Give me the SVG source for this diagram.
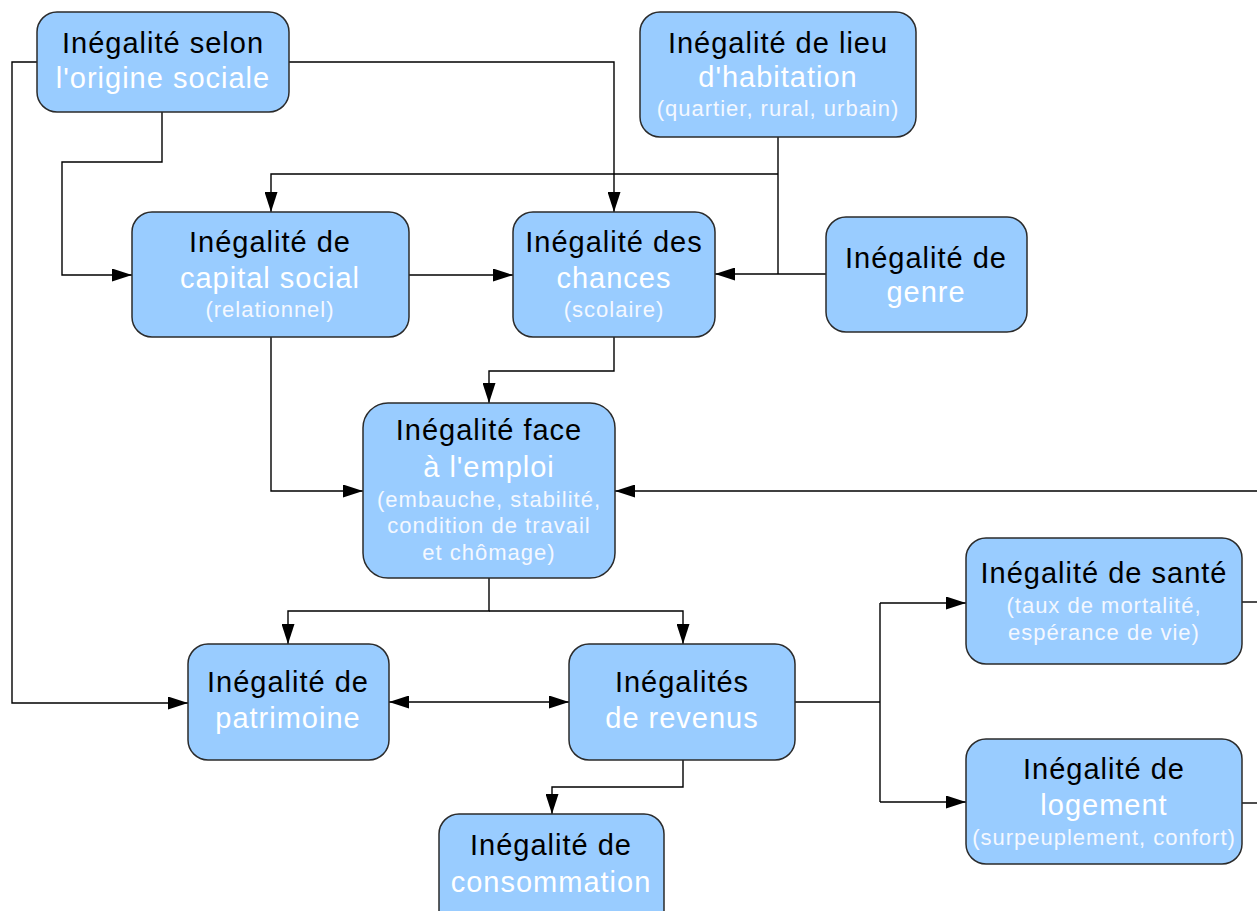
<svg xmlns="http://www.w3.org/2000/svg" width="1257" height="911" viewBox="0 0 1257 911">
<style>
.box{fill:#99ccff;stroke:#2b2b2b;stroke-width:1.5}
.t{font-family:"Liberation Sans",Arial,sans-serif;font-size:29px;letter-spacing:1px;text-anchor:middle;fill:#000}
.w{font-family:"Liberation Sans",Arial,sans-serif;font-size:29px;letter-spacing:1px;text-anchor:middle;fill:#fff}
.s{font-family:"Liberation Sans",Arial,sans-serif;font-size:22px;letter-spacing:1px;text-anchor:middle;fill:#f4f8ff}
.c{fill:none;stroke:#000;stroke-width:1.4}
.a{marker-end:url(#ah)}
</style>
<defs>
<marker id="ah" markerUnits="userSpaceOnUse" markerWidth="20" markerHeight="13" refX="20" refY="6.5" orient="auto-start-reverse" viewBox="0 0 20 13">
<path d="M0,0 L20,6.5 L0,13 z" fill="#000"/>
</marker>
</defs>
<rect width="1257" height="911" fill="#fff"/>
<g id="connectors">
<path class="c a" d="M37,62 H12 V703 H188"/>
<path class="c a" d="M289,62 H614 V212"/>
<path class="c a" d="M162,112 V162 H62 V275 H132"/>
<path class="c" d="M778,137 V274"/>
<path class="c a" d="M778,174 H271 V212"/>
<path class="c a" d="M826,274 H715"/>
<path class="c a" d="M409,275 H513"/>
<path class="c a" d="M614,337 V371 H489 V403"/>
<path class="c a" d="M271,337 V491 H363"/>
<path class="c a" d="M1257,491 H615"/>
<path class="c a" d="M489,578 V611 H288 V644"/>
<path class="c a" d="M489,611 H683 V644"/>
<path class="c a" d="M389,702 H569" marker-start="url(#ah)"/>
<path class="c a" d="M683,760 V787 H552 V814"/>
<path class="c" d="M795,702 H880"/>
<path class="c" d="M880,603 V802"/>
<path class="c a" d="M880,603 H966"/>
<path class="c a" d="M880,802 H966"/>
<path class="c" d="M1242,602 H1257"/>
<path class="c" d="M1242,803 H1257"/>
</g>
<g id="origine">
<rect class="box" x="37" y="12" width="252" height="100" rx="20"/>
<text class="t" x="163" y="53">Inégalité selon</text>
<text class="w" x="163" y="88">l'origine sociale</text>
</g>
<g id="lieu">
<rect class="box" x="640" y="12" width="276" height="125" rx="20"/>
<text class="t" x="778" y="53">Inégalité de lieu</text>
<text class="w" x="778" y="87">d'habitation</text>
<text class="s" x="778" y="116">(quartier, rural, urbain)</text>
</g>
<g id="capital">
<rect class="box" x="132" y="212" width="277" height="125" rx="20"/>
<text class="t" x="270" y="252">Inégalité de</text>
<text class="w" x="270" y="288">capital social</text>
<text class="s" x="270" y="317">(relationnel)</text>
</g>
<g id="chances">
<rect class="box" x="513" y="212" width="202" height="125" rx="20"/>
<text class="t" x="614" y="252">Inégalité des</text>
<text class="w" x="614" y="288">chances</text>
<text class="s" x="614" y="317">(scolaire)</text>
</g>
<g id="genre">
<rect class="box" x="826" y="217" width="201" height="115" rx="20"/>
<text class="t" x="926" y="268">Inégalité de</text>
<text class="w" x="926" y="302">genre</text>
</g>
<g id="emploi">
<rect class="box" x="363" y="403" width="252" height="175" rx="25"/>
<text class="t" x="489" y="440">Inégalité face</text>
<text class="w" x="489" y="477">à l'emploi</text>
<text class="s" x="489" y="507">(embauche, stabilité,</text>
<text class="s" x="489" y="533">condition de travail</text>
<text class="s" x="489" y="560">et chômage)</text>
</g>
<g id="patrimoine">
<rect class="box" x="188" y="644" width="201" height="116" rx="20"/>
<text class="t" x="288" y="692">Inégalité de</text>
<text class="w" x="288" y="728">patrimoine</text>
</g>
<g id="revenus">
<rect class="box" x="569" y="644" width="226" height="116" rx="20"/>
<text class="t" x="682" y="692">Inégalités</text>
<text class="w" x="682" y="728">de revenus</text>
</g>
<g id="consommation">
<rect class="box" x="439" y="814" width="225" height="120" rx="20"/>
<text class="t" x="551" y="855">Inégalité de</text>
<text class="w" x="551" y="892">consommation</text>
</g>
<g id="sante">
<rect class="box" x="966" y="538" width="276" height="126" rx="20"/>
<text class="t" x="1104" y="583">Inégalité de santé</text>
<text class="s" x="1104" y="613">(taux de mortalité,</text>
<text class="s" x="1104" y="640">espérance de vie)</text>
</g>
<g id="logement">
<rect class="box" x="966" y="739" width="276" height="125" rx="20"/>
<text class="t" x="1104" y="779">Inégalité de</text>
<text class="w" x="1104" y="815">logement</text>
<text class="s" x="1104" y="845">(surpeuplement, confort)</text>
</g>
</svg>
